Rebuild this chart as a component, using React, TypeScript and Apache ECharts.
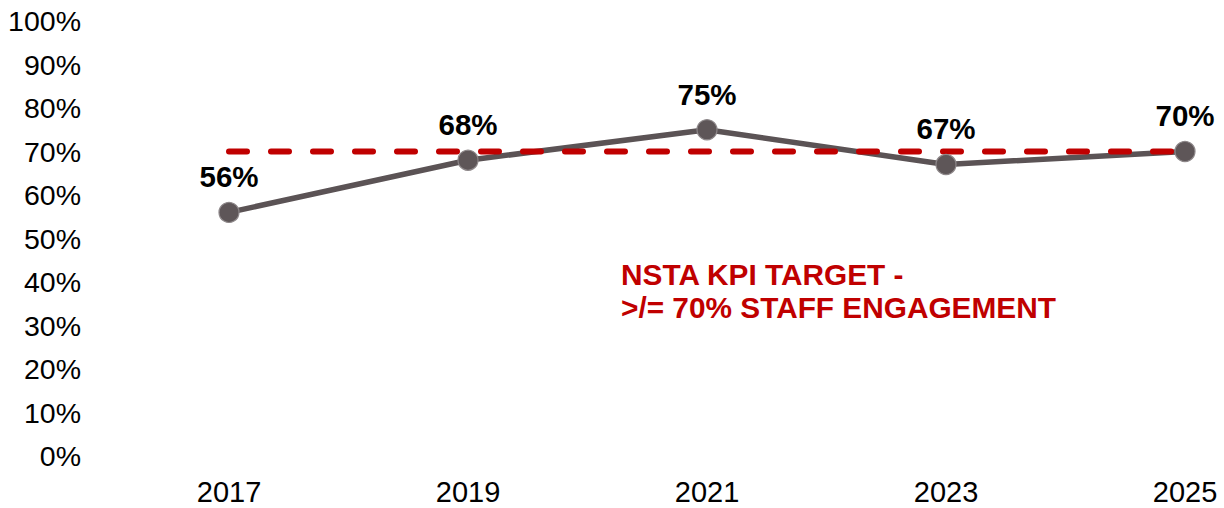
import React, { useEffect, useRef } from "react";
import * as echarts from "echarts";

const years = ["2017", "2019", "2021", "2023", "2025"];
const engagement = [56, 68, 75, 67, 70];
const target = [70, 70, 70, 70, 70];
const annotationLines = ["NSTA KPI TARGET -", ">/= 70% STAFF ENGAGEMENT"];

const FONT = "'Liberation Sans', Arial, sans-serif";
const GREY = "#5b5355";
const RED = "#c00000";

export default function App() {
  const ref = useRef<HTMLDivElement>(null);
  useEffect(() => {
    if (!ref.current) return;
    const chart = echarts.init(ref.current, null, { renderer: "svg" });
    chart.setOption({
      animation: false,
      backgroundColor: "#ffffff",
      textStyle: { fontFamily: FONT },
      grid: { left: 229, right: 39, top: 21, bottom: 52, containLabel: false },
      xAxis: {
        type: "category",
        data: years,
        boundaryGap: false,
        axisLine: { show: false },
        axisTick: { show: false },
        splitLine: { show: false },
        axisLabel: { color: "#000", fontSize: 29, fontFamily: FONT, margin: 21 },
      },
      yAxis: {
        type: "value",
        min: 0,
        max: 100,
        interval: 10,
        axisLine: { show: false },
        axisTick: { show: false },
        splitLine: { show: false },
        axisLabel: {
          color: "#000",
          fontSize: 28.5,
          fontFamily: FONT,
          margin: 148,
          formatter: (v: number) => `${v}%`,
        },
      },
      series: [
        {
          name: "Engagement line",
          type: "line",
          data: engagement,
          symbol: "none",
          z: 2,
          lineStyle: { color: GREY, width: 5.5 },
          silent: true,
        },
        {
          name: "Target",
          type: "line",
          data: target,
          symbol: "none",
          z: 3,
          lineStyle: { color: RED, width: 6, type: [18, 24], cap: "round" },
          silent: true,
        },
        {
          name: "Engagement",
          type: "line",
          data: engagement,
          symbol: "circle",
          symbolSize: 20,
          z: 4,
          lineStyle: { width: 0, opacity: 0 },
          itemStyle: { color: "#5e5658", borderColor: "#8d8789", borderWidth: 1.2 },
          label: {
            show: true,
            position: "top",
            distance: 10,
            color: "#000",
            fontSize: 29.5,
            fontWeight: "bold",
            fontFamily: FONT,
            formatter: (p: any) => `${p.value}%`,
          },
        },
      ],
      graphic: [
        {
          type: "text",
          left: 621,
          top: 258,
          style: {
            text: annotationLines.join("\n"),
            fill: RED,
            font: `bold 29.8px ${FONT}`,
            lineHeight: 33,
          },
        },
      ],
    });
    return () => chart.dispose();
  }, []);
  return (
    <div
      ref={ref}
      style={{ position: "absolute", left: 0, top: 0, width: 1224, height: 508 }}
    />
  );
}
